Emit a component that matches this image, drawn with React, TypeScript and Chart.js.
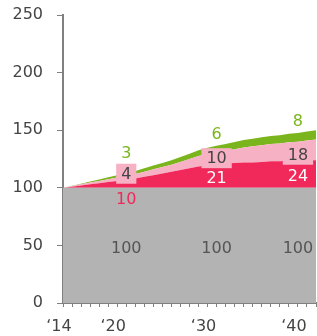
import React, { useEffect, useRef } from 'react';
import { Chart, registerables } from 'chart.js';

Chart.register(...registerables);

const years = [2014, 2015, 2016, 2017, 2018, 2019, 2020, 2021, 2022, 2023, 2024, 2025, 2026, 2027, 2028, 2029, 2030, 2031, 2032, 2033, 2034, 2035, 2036, 2037, 2038, 2039, 2040, 2041, 2042];
const baseValues = [100, 100, 100, 100, 100, 100, 100, 100, 100, 100, 100, 100, 100, 100, 100, 100, 100, 100, 100, 100, 100, 100, 100, 100, 100, 100, 100, 100, 100];
const redValues = [0, 1, 2, 3, 4, 5, 6, 7, 8, 9.5, 11, 12.5, 14, 15.5, 17, 18.5, 19.5, 20.5, 21, 21.5, 22, 22, 22.5, 23, 23, 23.5, 23.5, 24, 24];
const pinkValues = [0, 0.5, 1, 1.5, 2, 2.5, 3, 3.5, 4, 4.5, 5, 5.5, 6, 7, 8, 9, 10, 10.5, 11, 12, 13, 14, 14.5, 15, 15.5, 16, 16.5, 17, 18];
const greenValues = [0, 0.3, 0.6, 1, 1.3, 1.6, 2, 2.3, 2.6, 3, 3.3, 3.6, 4, 4.3, 4.6, 5, 5.3, 5.6, 6, 6.2, 6.4, 6.6, 6.8, 7, 7.2, 7.4, 7.6, 7.8, 8];

const labelYears = [2021, 2031, 2040];
const grayLabels = ['100', '100', '100'];
const redLabels = ['10', '21', '24'];
const pinkLabels = ['4', '10', '18'];
const greenLabels = ['3', '6', '8'];

const xTickYears = [2014, 2020, 2030, 2040];
const xTickTexts = ['\u201814', '\u201820', '\u201830', '\u201840'];
const yTicks = [0, 50, 100, 150, 200, 250];

const GRAY = '#b3b3b3';
const RED = '#f0295a';
const PINK = '#f7b1c5';
const GREEN = '#7ab51d';
const AXIS = '#808080';
const FONT = '"DejaVu Sans", sans-serif';

const toPoints = (vals: number[]) => years.map((yr, i) => ({ x: yr, y: vals[i] }));

const labelPlugin = {
  id: 'bandLabels',
  afterDatasetsDraw(chart: any) {
    const ctx = chart.ctx;
    const ys = chart.scales.y;
    labelYears.forEach((yr, k) => {
      const idx = years.indexOf(yr);
      const pts = [0, 1, 2, 3].map((d) => chart.getDatasetMeta(d).data[idx]);
      const x = pts[0].x;
      const zeroY = ys.getPixelForValue(0);
      const grayTop = pts[0].y;
      const redTop = pts[1].y;
      const greenTop = pts[3].y;
      ctx.save();
      ctx.font = '16px ' + FONT;
      ctx.textAlign = 'center';
      ctx.textBaseline = 'middle';
      ctx.fillStyle = '#555555';
      ctx.fillText(grayLabels[k], x, (zeroY + grayTop) / 2 + 3);
      if (grayTop - redTop < 18) {
        ctx.fillStyle = RED;
        ctx.fillText(redLabels[k], x, grayTop + 12);
      } else {
        ctx.fillStyle = '#ffffff';
        ctx.fillText(redLabels[k], x, (grayTop + redTop) / 2 + 3);
      }
      const tw = ctx.measureText(pinkLabels[k]).width;
      const bw = tw + 10;
      const bh = 20;
      const cy = redTop - 6;
      ctx.fillStyle = PINK;
      ctx.fillRect(x - bw / 2, cy - bh / 2, bw, bh);
      ctx.fillStyle = '#444444';
      ctx.fillText(pinkLabels[k], x, cy + 1);
      const gy = Math.min(greenTop - 11, cy - bh / 2 - 10);
      ctx.fillStyle = GREEN;
      ctx.fillText(greenLabels[k], x, gy);
      ctx.restore();
    });
  },
};

export default function App() {
  const ref = useRef<HTMLCanvasElement | null>(null);
  useEffect(() => {
    if (!ref.current) return;
    const common = { pointRadius: 0, borderWidth: 0, tension: 0 };
    const chart = new Chart(ref.current, {
      type: 'line',
      data: {
        datasets: [
          { ...common, data: toPoints(baseValues), backgroundColor: GRAY, borderColor: GRAY, fill: 'origin' },
          { ...common, data: toPoints(redValues), backgroundColor: RED, borderColor: RED, fill: '-1' },
          { ...common, data: toPoints(pinkValues), backgroundColor: PINK, borderColor: PINK, fill: '-1' },
          { ...common, data: toPoints(greenValues), backgroundColor: GREEN, borderColor: GREEN, fill: '-1' },
        ],
      },
      options: {
        responsive: false,
        animation: false,
        layout: { padding: { top: 15, right: 1, left: 0, bottom: 0 } },
        plugins: { legend: { display: false }, tooltip: { enabled: false } },
        scales: {
          x: {
            type: 'linear',
            min: 2014,
            max: 2042,
            z: 1,
            border: { color: AXIS, width: 2 },
            grid: { display: true, drawOnChartArea: false, drawTicks: true, tickLength: 4, color: AXIS, tickColor: AXIS, tickWidth: 1, lineWidth: 1 },
            ticks: {
              stepSize: 1,
              autoSkip: false,
              maxRotation: 0,
              padding: 0,
              labelOffset: -4,
              color: '#444444',
              font: { family: FONT, size: 16, lineHeight: 2.5 },
              callback: (v: any) => {
                const i = xTickYears.indexOf(Number(v));
                return i >= 0 ? xTickTexts[i] : '';
              },
            },
            afterFit: (s: any) => { s.height = 33; },
          },
          y: {
            stacked: true,
            min: 0,
            max: 250,
            z: 1,
            border: { color: AXIS, width: 2 },
            grid: { display: true, drawOnChartArea: false, drawTicks: true, tickLength: 6, color: AXIS, tickColor: AXIS, tickWidth: 1, lineWidth: 1 },
            afterBuildTicks: (s: any) => { s.ticks = yTicks.map((v) => ({ value: v })); },
            ticks: {
              padding: 14,
              color: '#444444',
              font: { family: FONT, size: 16, lineHeight: 0.05 },
            },
            afterFit: (s: any) => { s.width = 63; },
          },
        },
      },
      plugins: [labelPlugin],
    });
    return () => chart.destroy();
  }, []);
  return (
    <div style={{ position: 'absolute', left: 0, top: 0, width: 317, height: 336 }}>
      <canvas ref={ref} width={317} height={336} />
    </div>
  );
}
